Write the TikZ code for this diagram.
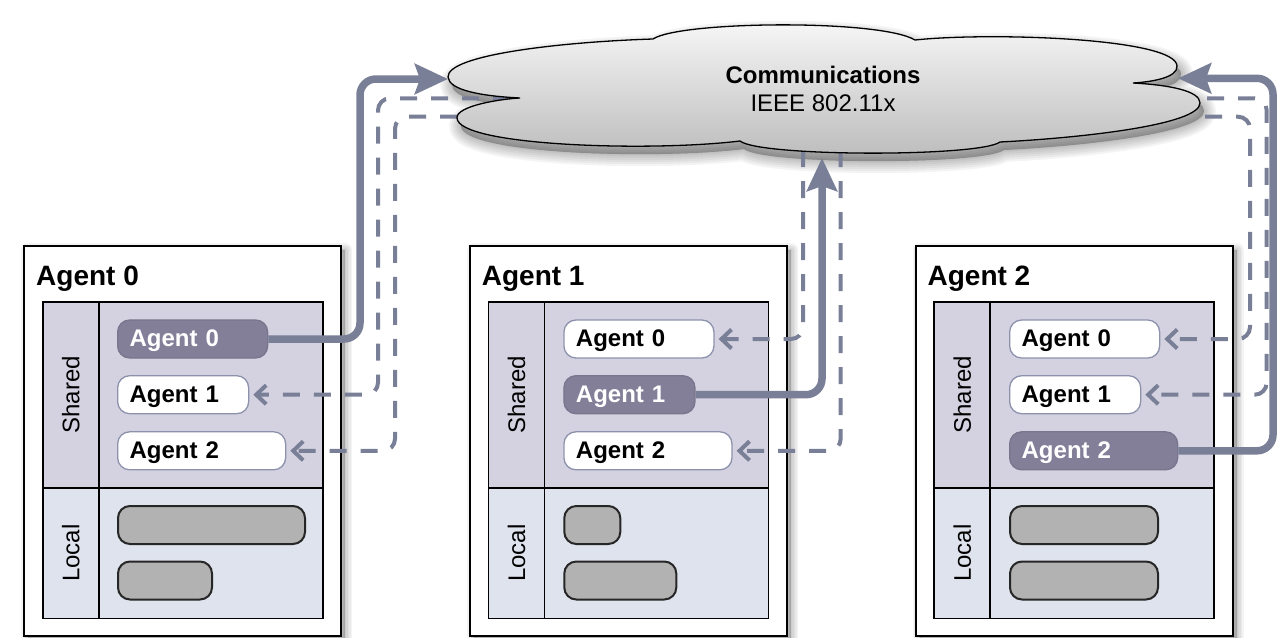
\documentclass[tikz,border=0pt]{standalone}
\usepackage{fontspec}
\setmainfont{Liberation Sans}
\usetikzlibrary{arrows.meta}
\definecolor{arrowc}{RGB}{121,127,150}
\definecolor{chipdark}{RGB}{131,127,153}
\definecolor{sharedbg}{RGB}{212,210,224}
\definecolor{localbg}{RGB}{223,227,237}
\definecolor{chipborder}{RGB}{140,146,172}
\definecolor{barfill}{RGB}{178,178,178}
\tikzset{
  outerbox/.style={draw=black, line width=1.8pt, fill=white},
  innerline/.style={draw=black, line width=1.6pt},
  softshadow/.style={fill=black, fill opacity=0.045, draw=black, draw opacity=0.045, line join=round},
  agenttitle/.style={anchor=base west, inner sep=0pt, font=\fontsize{28}{30}\selectfont\bfseries},
  sidelabel/.style={rotate=90, inner sep=0pt, font=\fontsize{24}{26}\selectfont},
  chip/.style={anchor=west, rounded corners=12pt, minimum height=38pt, inner xsep=12pt, inner ysep=0pt,
    text height=20pt, text depth=4.6pt, align=left, font=\fontsize{24}{26}\selectfont\bfseries},
  chipw/.style={chip, fill=white, draw=chipborder, line width=1.3pt},
  chipd/.style={chip, fill=chipdark, draw=chipdark!92!black, line width=1.3pt, text=white},
  wa0/.style={text width=126pt},
  wa1/.style={text width=107pt},
  wa2/.style={text width=144pt},
  bar/.style={anchor=west, rounded corners=12pt, minimum height=38pt, inner sep=0pt,
    fill=barfill, draw=black!85, line width=2pt},
  solidarrow/.style={draw=arrowc, line width=7.5pt, rounded corners=16pt,
    -{Stealth[length=33pt,width=30pt,inset=5pt]}},
  dasharrow/.style={draw=arrowc, line width=4pt, dash pattern=on 17pt off 14pt, rounded corners=12pt,
    shorten >=4pt, -{Straight Barb[length=10pt,width=19pt]}},
  commtext/.style={align=center, inner sep=0pt, font=\fontsize{24}{28}\selectfont},
}
\newcommand\cloudpath{(448,77) .. controls (447,55) and (560,42) .. (653,39)
  .. controls (680,21) and (880,19) .. (915,40)
  .. controls (990,32) and (1176,38) .. (1177,66)
  .. controls (1178,78) and (1150,82) .. (1133,83)
  .. controls (1170,85) and (1200,91) .. (1200,103)
  .. controls (1200,125) and (1080,138) .. (1000,142)
  .. controls (980,157) and (760,157) .. (740,141)
  .. controls (650,152) and (458,146) .. (457,118)
  .. controls (456,106) and (500,99) .. (520,98)
  .. controls (480,96) and (449,90) .. (448,77) -- cycle}
\newcommand\agentframe[2]{%
  \foreach \w in {14,11,8,5,2}{\path[softshadow, line width=\w pt] (#1+4,250) rectangle (#1+321,640);}
  \draw[outerbox] (#1,245.7) rectangle (#1+317,636);
  \fill[sharedbg] (#1+18.5,301.7) rectangle (#1+298.5,487.7);
  \fill[localbg] (#1+18.5,487.7) rectangle (#1+298.5,618.3);
  \draw[innerline] (#1+18.5,301.7) rectangle (#1+298.5,618.3);
  \draw[innerline] (#1+74.5,301.7) -- (#1+74.5,618.3);
  \draw[innerline] (#1+18.5,487.7) -- (#1+298.5,487.7);
  \node[agenttitle] (title#2) at (#1+11.7,285) {Agent #2};
  \node[sidelabel] (shared#2) at (#1+46.6,394.7) {Shared};
  \node[sidelabel] (local#2) at (#1+46.6,553) {Local};
}
\begin{document}
\begin{tikzpicture}[x=1pt,y=-1pt]
\useasboundingbox (0,0) rectangle (1279,637);

% agent frames
\agentframe{24.3}{0}
\agentframe{470}{1}
\agentframe{915.7}{2}

% Agent 0 contents
\node[chipd, wa0] (a0c0) at (117,339) {Agent 0};
\node[chipw, wa1] (a0c1) at (117,394.7) {Agent 1};
\node[chipw, wa2] (a0c2) at (117,450.8) {Agent 2};
\node[bar, minimum width=187pt] (a0b1) at (117,525) {};
\node[bar, minimum width=94pt] (a0b2) at (117,580.5) {};

% Agent 1 contents
\node[chipw, wa0] (a1c0) at (563.3,339) {Agent 0};
\node[chipd, wa1] (a1c1) at (563.3,394.7) {Agent 1};
\node[chipw, wa2] (a1c2) at (563.3,450.8) {Agent 2};
\node[bar, minimum width=56pt] (a1b1) at (563.3,525) {};
\node[bar, minimum width=112pt] (a1b2) at (563.3,580.5) {};

% Agent 2 contents
\node[chipw, wa0] (a2c0) at (1009,339) {Agent 0};
\node[chipw, wa1] (a2c1) at (1009,394.7) {Agent 1};
\node[chipd, wa2] (a2c2) at (1009,450.8) {Agent 2};
\node[bar, minimum width=148pt] (a2b1) at (1009,525) {};
\node[bar, minimum width=148pt] (a2b2) at (1009,580.5) {};

% cloud shadow
\begin{scope}[xshift=4pt,yshift=-8pt]
  \foreach \w in {24,20,16,12,8,4,1}{\path[softshadow, line width=\w pt] \cloudpath;}
\end{scope}

% cloud attachment points and turns
\coordinate (cL) at (448,79);
\coordinate (cB) at (822,158);
\coordinate (cR) at (1178,78.3);
\coordinate (t0a) at (360,339);
\coordinate (t0b) at (360,79);
\coordinate (t1) at (822,394.7);
\coordinate (t2a) at (1273,450.8);
\coordinate (t2b) at (1273,78.3);

\coordinate (s01) at (510,98.3);
\coordinate (k01a) at (378,98.3);
\coordinate (k01b) at (378,394.7);
\coordinate (s02) at (457,116.7);
\coordinate (k02a) at (395,116.7);
\coordinate (k02b) at (395,450.8);
\coordinate (s10) at (803,150);
\coordinate (k10) at (803,339);
\coordinate (s12) at (840.7,150);
\coordinate (k12) at (840.7,450.8);
\coordinate (s21) at (1207,98.3);
\coordinate (k21a) at (1266.7,98.3);
\coordinate (k21b) at (1266.7,394.7);
\coordinate (s20) at (1205,116.7);
\coordinate (k20a) at (1250,116.7);
\coordinate (k20b) at (1250,339);

% dashed incoming connectors
\draw[dasharrow] (s01) -- (k01a) -- (k01b) -- (a0c1.east);
\draw[dasharrow] (s02) -- (k02a) -- (k02b) -- (a0c2.east);
\draw[dasharrow] (s10) -- (k10) -- (a1c0.east);
\draw[dasharrow] (s12) -- (k12) -- (a1c2.east);
\draw[dasharrow] (s21) -- (k21a) -- (k21b) -- (a2c1.east);
\draw[dasharrow] (s20) -- (k20a) -- (k20b) -- (a2c0.east);

% solid outgoing connectors
\draw[solidarrow] (a0c0.east) -- (t0a) -- (t0b) -- (cL);
\draw[solidarrow] (a1c1.east) -- (t1) -- (cB);
\draw[solidarrow] (a2c2.east) -- (t2a) -- (t2b) -- (cR);

% cloud
\path[draw=black, line width=1.3pt, top color=white!97!black, bottom color=black!26] \cloudpath;
\node[commtext] (comm) at (823,89) {\textbf{Communications}\\IEEE 802.11x};
\end{tikzpicture}
\end{document}
